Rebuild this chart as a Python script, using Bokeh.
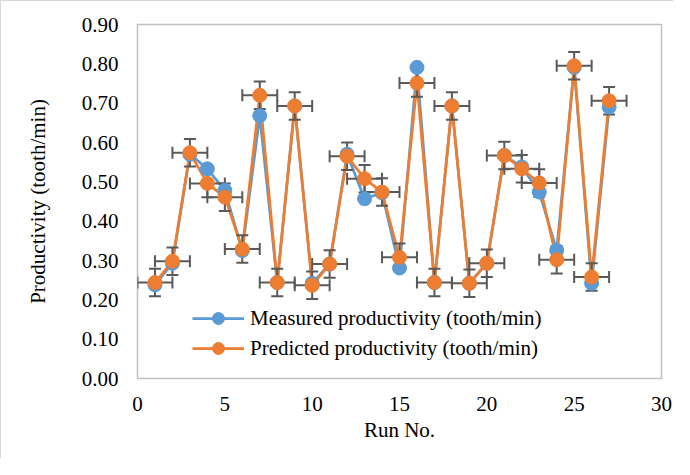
from bokeh.plotting import figure
from bokeh.models import ColumnDataSource, Whisker, TeeHead, FixedTicker, PrintfTickFormatter, Range1d, Legend, LegendItem
from bokeh.embed import file_html
from bokeh.resources import INLINE

run = list(range(1, 28))
measured = [0.238, 0.293, 0.570, 0.533, 0.478, 0.325, 0.668, 0.244, 0.693, 0.242,
            0.291, 0.570, 0.457, 0.472, 0.281, 0.791, 0.244, 0.693, 0.242, 0.293,
            0.567, 0.538, 0.474, 0.326, 0.791, 0.242, 0.690]
predicted = [0.244, 0.298, 0.574, 0.496, 0.461, 0.329, 0.720, 0.244, 0.693, 0.237,
             0.291, 0.565, 0.508, 0.474, 0.308, 0.751, 0.244, 0.693, 0.242, 0.293,
             0.567, 0.533, 0.497, 0.302, 0.795, 0.258, 0.706]
x_err = 1.0
y_err = 0.035
x_ticks = [0, 5, 10, 15, 20, 25, 30]
y_ticks = [0.0, 0.1, 0.2, 0.3, 0.4, 0.5, 0.6, 0.7, 0.8, 0.9]

BLUE = "#5B9BD5"
ORANGE = "#ED7D31"
GRAY = "#595959"
FONT = "Liberation Serif"

src = ColumnDataSource(dict(
    x=run, m=measured, p=predicted,
    xl=[v - x_err for v in run], xu=[v + x_err for v in run],
    yl=[v - y_err for v in predicted], yu=[v + y_err for v in predicted],
))

p = figure(width=673, height=458, output_backend="svg", toolbar_location=None,
           x_range=Range1d(0, 30), y_range=Range1d(0, 0.9),
           min_border_left=136, min_border_right=13, min_border_top=23, min_border_bottom=81)
p.styles = {"border-left": "1px solid #d9d9d9", "border-top": "1px solid #d9d9d9"}
p.background_fill_color = "white"
p.border_fill_color = "white"
p.outline_line_color = "#bfbfbf"
p.outline_line_width = 1.5
p.xgrid.visible = False
p.ygrid.visible = False

for ax in (p.xaxis[0], p.yaxis[0]):
    ax.axis_line_color = None
    ax.major_tick_line_color = None
    ax.minor_tick_line_color = None
    ax.major_tick_in = 0
    ax.major_tick_out = 0
    ax.major_label_text_font = FONT
    ax.major_label_text_font_size = "21px"
    ax.major_label_text_color = "#000000"
    ax.axis_label_text_font = FONT
    ax.axis_label_text_font_size = "21px"
    ax.axis_label_text_font_style = "normal"
    ax.axis_label_text_color = "#000000"

p.xaxis.ticker = FixedTicker(ticks=x_ticks)
p.yaxis.ticker = FixedTicker(ticks=y_ticks)
p.yaxis.formatter = PrintfTickFormatter(format="%.2f")
p.xaxis.axis_label = "Run No."
p.yaxis.axis_label = "Productivity (tooth/min)"
p.xaxis.major_label_standoff = 18
p.yaxis.major_label_standoff = 19
p.xaxis.axis_label_standoff = 4
p.yaxis.axis_label_standoff = 29

lm = p.line("x", "m", source=src, line_color=BLUE, line_width=2.75, level="underlay")
lp = p.line("x", "p", source=src, line_color=ORANGE, line_width=2.75, level="underlay")

wy = Whisker(source=src, base="x", lower="yl", upper="yu", dimension="height",
             line_color=GRAY, line_width=2, level="underlay",
             upper_head=TeeHead(size=12, line_color=GRAY, line_width=2),
             lower_head=TeeHead(size=12, line_color=GRAY, line_width=2))
wx = Whisker(source=src, base="p", lower="xl", upper="xu", dimension="width",
             line_color=GRAY, line_width=2, level="underlay",
             upper_head=TeeHead(size=12, line_color=GRAY, line_width=2),
             lower_head=TeeHead(size=12, line_color=GRAY, line_width=2))
p.add_layout(wy)
p.add_layout(wx)

sm = p.scatter("x", "m", source=src, size=14, fill_color=BLUE, line_color=BLUE)
sp = p.scatter("x", "p", source=src, size=14, fill_color=ORANGE, line_color=ORANGE)

legend = Legend(items=[
    LegendItem(label="Measured productivity (tooth/min)", renderers=[lm, sm]),
    LegendItem(label="Predicted productivity (tooth/min)", renderers=[lp, sp]),
], location=(55, 15))
legend.border_line_color = None
legend.background_fill_alpha = 0
legend.padding = 0
legend.margin = 0
legend.spacing = 0
legend.glyph_width = 52
legend.glyph_height = 30
legend.label_height = 30
legend.label_standoff = 6
legend.label_text_font = FONT
legend.label_text_font_size = "21px"
legend.label_text_color = "#000000"
p.add_layout(legend, "center")

open("out.html", "w").write(file_html(p, INLINE))
